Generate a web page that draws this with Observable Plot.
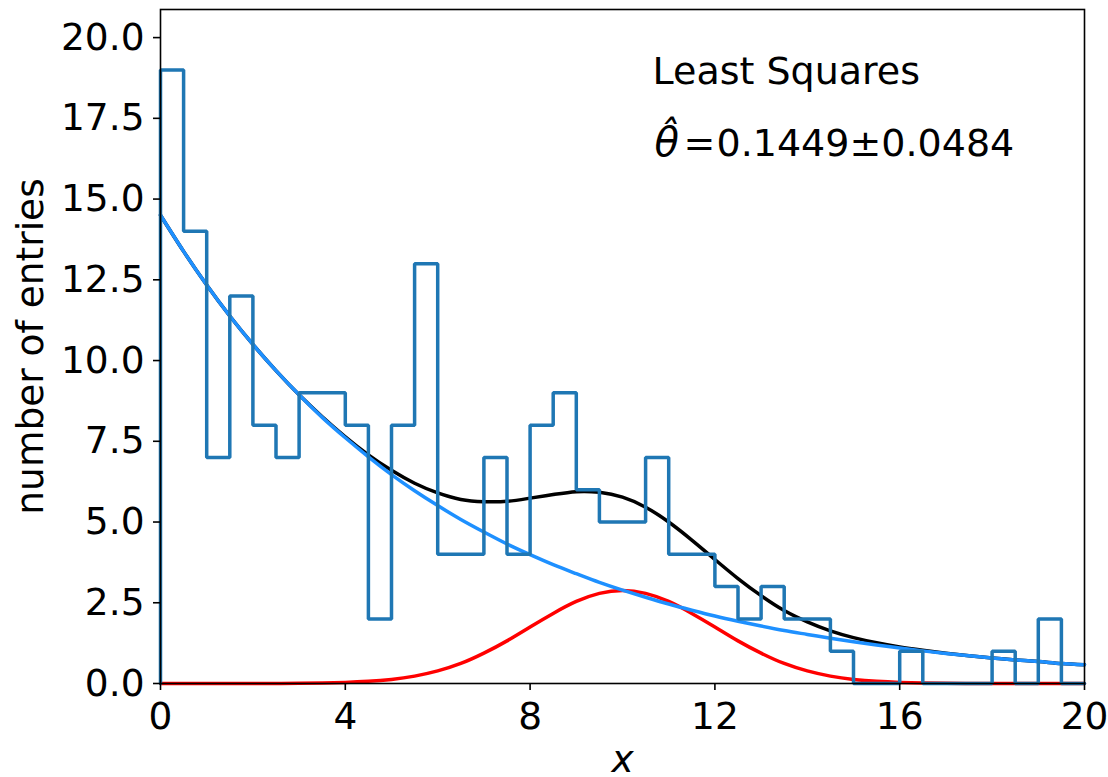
<!DOCTYPE html>
<html>
<head>
<meta charset="utf-8">
<script src="https://cdn.jsdelivr.net/npm/d3@7"></script>
<script src="https://cdn.jsdelivr.net/npm/@observablehq/plot@0.6"></script>
<style>
  html, body { margin: 0; padding: 0; background: #fff; }
  #chart svg { display: block; }
</style>
</head>
<body>
<div id="chart"></div>
<script>
// Histogram: entries per bin of width 0.5 on [0, 20]
const binWidth = 0.5;
const counts = [19, 14, 7, 12, 8, 7, 9, 9, 8, 2,
                8, 13, 4, 4, 7, 4, 8, 9, 6, 5,
                5, 7, 4, 4, 3, 2, 3, 2, 2, 1,
                0, 0, 1, 0, 0, 0, 1, 0, 2, 0];

// Fitted model sampled along x
const curveX = [0, 0.5, 1, 1.5, 2, 2.5, 3, 3.5, 4, 4.5, 5, 5.5, 6, 6.5, 7, 7.5, 8, 8.5, 9, 9.5,
                10, 10.5, 11, 11.5, 12, 12.5, 13, 13.5, 14, 14.5, 15, 15.5, 16, 16.5, 17, 17.5, 18, 18.5, 19, 19.5, 20];
const backgroundFit = [14.50, 13.38, 12.34, 11.38, 10.50, 9.69, 8.94, 8.24, 7.61, 7.02,
                       6.47, 5.97, 5.51, 5.08, 4.69, 4.32, 3.99, 3.68, 3.40, 3.13,
                       2.89, 2.67, 2.46, 2.27, 2.09, 1.93, 1.78, 1.64, 1.52, 1.40,
                       1.29, 1.19, 1.10, 1.01, 0.93, 0.86, 0.79, 0.73, 0.68, 0.62, 0.58];
const signalFit = [0, 0, 0, 0, 0.001, 0.003, 0.006, 0.015, 0.032, 0.066,
                   0.127, 0.229, 0.39, 0.62, 0.94, 1.32, 1.75, 2.17, 2.54, 2.79,
                   2.88, 2.79, 2.54, 2.17, 1.75, 1.32, 0.94, 0.62, 0.39, 0.229,
                   0.127, 0.066, 0.032, 0.015, 0.006, 0.003, 0.001, 0, 0, 0, 0];
const totalFit = [14.50, 13.38, 12.34, 11.38, 10.50, 9.69, 8.94, 8.26, 7.64, 7.08,
                  6.60, 6.20, 5.90, 5.70, 5.63, 5.64, 5.74, 5.85, 5.94, 5.92,
                  5.77, 5.46, 5.00, 4.44, 3.84, 3.25, 2.72, 2.26, 1.91, 1.63,
                  1.42, 1.26, 1.13, 1.03, 0.94, 0.86, 0.79, 0.73, 0.68, 0.62, 0.58];

const xTicks = [0, 4, 8, 12, 16, 20];
const yTicks = [0, 2.5, 5, 7.5, 10, 12.5, 15, 17.5, 20];

const fitTitle = "Least Squares";
const thetaSymbol = "\u03B8\u0302";
const equalsSign = "=";
const thetaValue = "0.1449\u00B10.0484";

// Outline of the histogram, drawn as a step line
const stepPoints = [{x: 0, y: 0}]
  .concat(counts.map((c, i) => ({x: i * binWidth, y: c})))
  .concat([{x: counts.length * binWidth, y: counts[counts.length - 1]},
           {x: counts.length * binWidth, y: 0}]);

const curveRows = curveX.map((x, i) => ({
  x, background: backgroundFit[i], signal: signalFit[i], total: totalFit[i]
}));

const font = "DejaVu Sans, Verdana, sans-serif";
const annot = {frameAnchor: "top-left", text: d => d, textAnchor: "start", lineAnchor: "middle", fontSize: 38};

const chart = Plot.plot({
  width: 1108,
  height: 777,
  marginLeft: 160,
  marginRight: 24,
  marginTop: 9,
  marginBottom: 94,
  style: {fontFamily: font, fontSize: "37.5px", background: "white", color: "black", overflow: "visible"},
  x: {domain: [0, 20]},
  y: {domain: [0, 20.87]},
  marks: [
    Plot.line(curveRows, {x: "x", y: "signal", stroke: "red", strokeWidth: 3.5, curve: "natural"}),
    Plot.line(curveRows, {x: "x", y: "total", stroke: "black", strokeWidth: 3.5, curve: "natural"}),
    Plot.line(curveRows, {x: "x", y: "background", stroke: "#1e90ff", strokeWidth: 3.5, curve: "natural"}),
    Plot.line(stepPoints, {x: "x", y: "y", stroke: "#1f77b4", strokeWidth: 3.5, curve: "step-after", strokeLinejoin: "miter"}),
    Plot.frame({stroke: "black", strokeWidth: 1.6}),
    Plot.axisX({ticks: xTicks, tickSize: 7, tickPadding: 12, strokeWidth: 1.6, label: null, tickFormat: d => String(d)}),
    Plot.axisY({ticks: yTicks, tickSize: 7, tickPadding: 9, strokeWidth: 1.6, label: null, tickFormat: d3.format(".1f")}),
    Plot.text(["number of entries"], {frameAnchor: "left", text: d => d, rotate: -90, dx: -130, lineAnchor: "middle", textAnchor: "middle"}),
    Plot.text(["x"], {frameAnchor: "bottom", text: d => d, dy: 76, lineAnchor: "middle", fontStyle: "italic"}),
    Plot.text([fitTitle], {...annot, dx: 492, dy: 62}),
    Plot.text([thetaSymbol], {...annot, dx: 494, dy: 134, fontStyle: "italic", fontSize: 40}),
    Plot.text([equalsSign], {...annot, dx: 523, dy: 134}),
    Plot.text([thetaValue], {...annot, dx: 556, dy: 134})
  ]
});

document.getElementById("chart").appendChild(chart);
</script>
</body>
</html>
